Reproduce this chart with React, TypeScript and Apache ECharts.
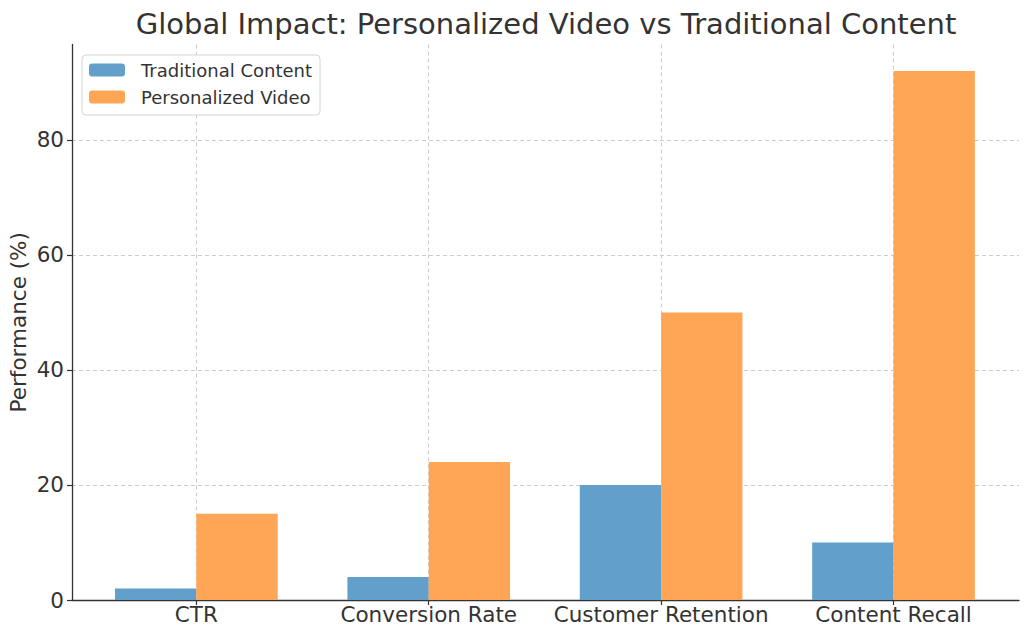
import React, { useEffect, useRef } from "react";
import * as echarts from "echarts";

const categories = ["CTR", "Conversion Rate", "Customer Retention", "Content Recall"];
const traditional = [2, 4, 20, 10];
const personalized = [15, 24, 50, 92];
const yTicks = [0, 20, 40, 60, 80];
const xTicks = [0, 1, 2, 3];

const FONT = "DejaVu Sans";

export default function App() {
  const ref = useRef<HTMLDivElement>(null);
  useEffect(() => {
    document.body.style.margin = "0";
    const chart = echarts.init(ref.current!, null, { renderer: "svg" });
    chart.setOption({
      animation: false,
      backgroundColor: "#ffffff",
      title: {
        text: "Global Impact: Personalized Video vs Traditional Content",
        left: 541,
        top: 4,
        textAlign: "center",
        textStyle: { fontFamily: FONT, fontSize: 29, fontWeight: "normal", color: "#333333" },
      },
      legend: {
        orient: "vertical",
        left: 82,
        top: 55,
        itemWidth: 36,
        itemHeight: 13,
        itemGap: 9,
        padding: [6, 8, 9, 7],
        backgroundColor: "#ffffff",
        borderColor: "#d5d5d5",
        borderWidth: 1,
        borderRadius: 4,
        textStyle: { fontFamily: FONT, fontSize: 18, lineHeight: 18, color: "#333333", padding: [0, 0, 0, 11] },
        data: ["Traditional Content", "Personalized Video"],
      },
      grid: { left: 72, right: 5, top: 44.5, bottom: 37, containLabel: false, outerBoundsMode: "none" },
      xAxis: {
        type: "value",
        min: -0.535,
        max: 3.54,
        axisLine: { show: true, onZero: false, lineStyle: { color: "#333333", width: 1.3 } },
        axisTick: { show: true, length: 5, customValues: xTicks, lineStyle: { color: "#333333", width: 1.2 } },
        axisLabel: {
          customValues: xTicks,
          formatter: (v: number) => categories[Math.round(v)] ?? "",
          fontFamily: FONT,
          fontSize: 21.5,
          color: "#333333",
          margin: 3,
        },
        splitLine: { show: true, lineStyle: { color: "#cccccc", type: [4, 3], width: 1 } },
      },
      yAxis: {
        type: "value",
        min: 0,
        max: 96.6,
        interval: 20,
        name: "Performance (%)",
        nameLocation: "middle",
        nameRotate: 90,
        nameGap: 43,
        nameMoveOverlap: false,
        nameTextStyle: { fontFamily: FONT, fontSize: 21.5, color: "#333333" },
        axisLine: { show: true, onZero: false, lineStyle: { color: "#333333", width: 1.3 } },
        axisTick: { show: true, length: 5, customValues: yTicks, lineStyle: { color: "#333333", width: 1.2 } },
        axisLabel: { customValues: yTicks, fontFamily: FONT, fontSize: 21.5, color: "#333333", margin: 8 },
        splitLine: { show: true, lineStyle: { color: "#cccccc", type: [4, 3], width: 1 } },
      },
      series: [
        {
          name: "Traditional Content",
          type: "bar",
          data: traditional.map((v, i) => [i, v]),
          barWidth: "35%",
          barGap: "0%",
          itemStyle: { color: "#62a0cb" },
        },
        {
          name: "Personalized Video",
          type: "bar",
          data: personalized.map((v, i) => [i, v]),
          barWidth: "35%",
          barGap: "0%",
          itemStyle: { color: "#ffa556" },
        },
      ],
    });
    return () => chart.dispose();
  }, []);
  return <div ref={ref} style={{ width: 1024, height: 637 }} />;
}
